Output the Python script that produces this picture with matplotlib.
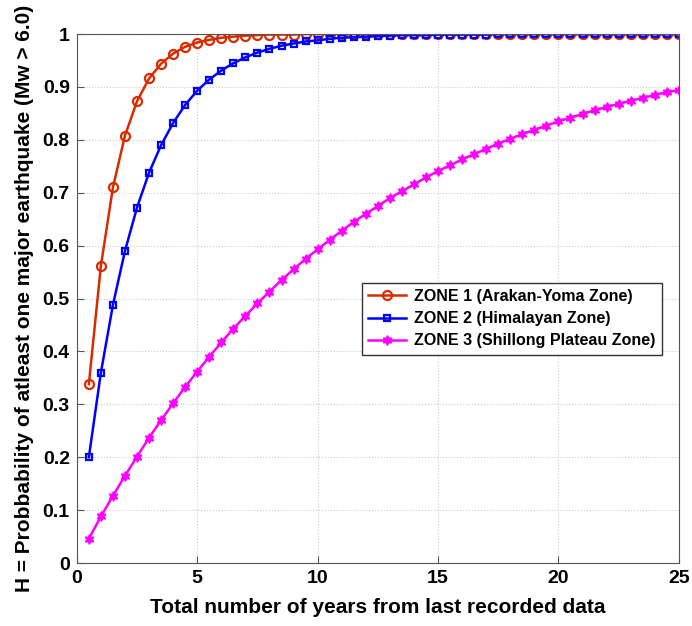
import matplotlib.pyplot as plt
from matplotlib.ticker import FuncFormatter

plt.rcParams['font.family'] = ['Liberation Sans', 'DejaVu Sans']
plt.rcParams['font.weight'] = 'bold'

# years from last recorded data (0.5 to 25 in half-year steps)
years = [0.5 * k for k in range(1, 51)]

zone1 = [0.338, 0.562, 0.710, 0.808, 0.873, 0.916, 0.944, 0.963, 0.976, 0.984,
         0.989, 0.993, 0.995, 0.997, 0.998, 0.999, 0.999, 0.999, 1.000, 1.000,
         1.000, 1.000, 1.000, 1.000, 1.000, 1.000, 1.000, 1.000, 1.000, 1.000,
         1.000, 1.000, 1.000, 1.000, 1.000, 1.000, 1.000, 1.000, 1.000, 1.000,
         1.000, 1.000, 1.000, 1.000, 1.000, 1.000, 1.000, 1.000, 1.000, 1.000]

zone2 = [0.200, 0.360, 0.488, 0.590, 0.672, 0.738, 0.790, 0.832, 0.866, 0.893,
         0.914, 0.931, 0.945, 0.956, 0.965, 0.972, 0.978, 0.982, 0.986, 0.988,
         0.991, 0.993, 0.994, 0.995, 0.996, 0.997, 0.998, 0.998, 0.998, 0.999,
         0.999, 0.999, 0.999, 0.999, 1.000, 1.000, 1.000, 1.000, 1.000, 1.000,
         1.000, 1.000, 1.000, 1.000, 1.000, 1.000, 1.000, 1.000, 1.000, 1.000]

zone3 = [0.046, 0.088, 0.127, 0.165, 0.201, 0.237, 0.270, 0.302, 0.333, 0.362,
         0.390, 0.417, 0.443, 0.467, 0.491, 0.513, 0.535, 0.555, 0.575, 0.593,
         0.611, 0.628, 0.645, 0.660, 0.675, 0.690, 0.703, 0.716, 0.729, 0.741,
         0.752, 0.763, 0.773, 0.783, 0.793, 0.802, 0.811, 0.819, 0.827, 0.835,
         0.842, 0.849, 0.856, 0.862, 0.868, 0.874, 0.879, 0.885, 0.890, 0.894]

labels = ['ZONE 1 (Arakan-Yoma Zone)', 'ZONE 2 (Himalayan Zone)',
          'ZONE 3 (Shillong Plateau Zone)']

fig = plt.figure(figsize=(6.92, 6.26), dpi=100)
ax = fig.add_axes([0.111, 0.1006, 0.870, 0.845])

ax.plot(years, zone1, color='#d92b00', lw=1.8, marker='o', ms=6.5, mfc='none',
        mew=1.6, label=labels[0])
ax.plot(years, zone2, color='#0000ff', lw=1.8, marker='s', ms=5, mfc='none',
        mew=1.6, label=labels[1])
ax.plot(years, zone3, color='#ff00ff', lw=1.8, marker=(6, 1, 0), ms=7,
        label=labels[2])

ax.set_xlim(0, 25)
ax.set_ylim(0, 1)
ax.set_xticks([0, 5, 10, 15, 20, 25])
ax.set_yticks([i / 10 for i in range(11)])
ax.yaxis.set_major_formatter(FuncFormatter(lambda v, p: '%g' % round(v, 1)))
ax.tick_params(labelsize=14, direction='in', length=5, color='#555555', pad=5)
for s in ax.spines.values():
    s.set_color('#555555')
ax.grid(True, ls=':', color='#cccccc', lw=0.8)

ax.set_xlabel('Total number of years from last recorded data', fontsize=15,
              fontweight='bold', labelpad=8)
ax.set_ylabel('H = Probbability of atleast one major earthquake (Mw > 6.0)',
              fontsize=15, fontweight='bold', labelpad=6)

leg = ax.legend(loc='upper left', bbox_to_anchor=(0.473, 0.53), fontsize=11.5,
                fancybox=False, edgecolor='#333333', framealpha=1,
                handlelength=2.4, borderpad=0.4, labelspacing=0.45,
                handletextpad=0.5, borderaxespad=0)
leg.get_frame().set_linewidth(1)

plt.savefig('out.png', dpi=100)
